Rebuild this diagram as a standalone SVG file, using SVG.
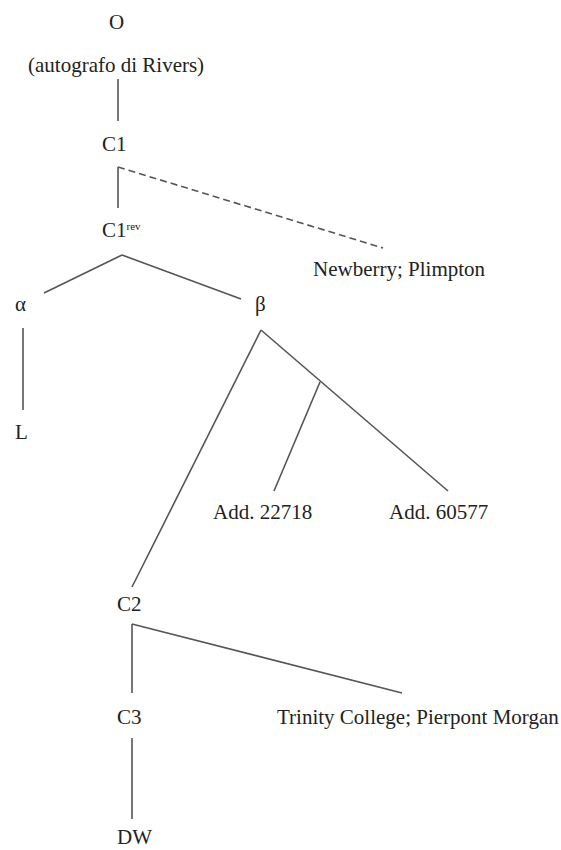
<svg xmlns="http://www.w3.org/2000/svg" width="561" height="850" viewBox="0 0 561 850">
<style>
text{font-family:"Liberation Serif","Times New Roman",serif;font-size:21px;fill:#222}
.sup{font-size:11px}
.c line,.c path{stroke:#555;stroke-width:1.6;fill:none}
.c .dash{stroke-dasharray:7,4}
</style>
<rect width="561" height="850" fill="#fff"/>
<g class="c" id="connectors">
<line x1="118" y1="79" x2="118" y2="121"/>
<line x1="118" y1="208" x2="118" y2="167"/>
<line class="dash" x1="118" y1="167" x2="383" y2="248"/>
<line x1="122" y1="255" x2="44" y2="293"/>
<line x1="122" y1="255" x2="241" y2="299"/>
<line x1="23" y1="328" x2="23" y2="410"/>
<line x1="261" y1="330" x2="132" y2="587"/>
<line x1="261" y1="330" x2="448" y2="491"/>
<line x1="320" y1="382" x2="274" y2="491"/>
<line x1="132" y1="693" x2="132" y2="624"/>
<line x1="132" y1="624" x2="402" y2="693"/>
<line x1="132" y1="738" x2="132" y2="819"/>
</g>
<g id="n-O"><text x="109" y="29">O</text><text x="28" y="72">(autografo di Rivers)</text></g>
<g id="n-C1"><text x="102" y="151">C1</text></g>
<g id="n-C1rev"><text x="102" y="237">C1<tspan class="sup" dy="-7">rev</tspan></text></g>
<g id="n-newberry"><text x="313" y="276">Newberry; Plimpton</text></g>
<g id="n-alpha"><text x="15" y="311">α</text></g>
<g id="n-beta"><text x="255" y="311">β</text></g>
<g id="n-L"><text x="15" y="439">L</text></g>
<g id="n-add22718"><text x="213" y="519">Add. 22718</text></g>
<g id="n-add60577"><text x="389" y="519">Add. 60577</text></g>
<g id="n-C2"><text x="117" y="611">C2</text></g>
<g id="n-C3"><text x="117" y="724">C3</text></g>
<g id="n-trinity"><text x="277" y="724">Trinity College; Pierpont Morgan</text></g>
<g id="n-DW"><text x="117" y="844">DW</text></g>
</svg>
